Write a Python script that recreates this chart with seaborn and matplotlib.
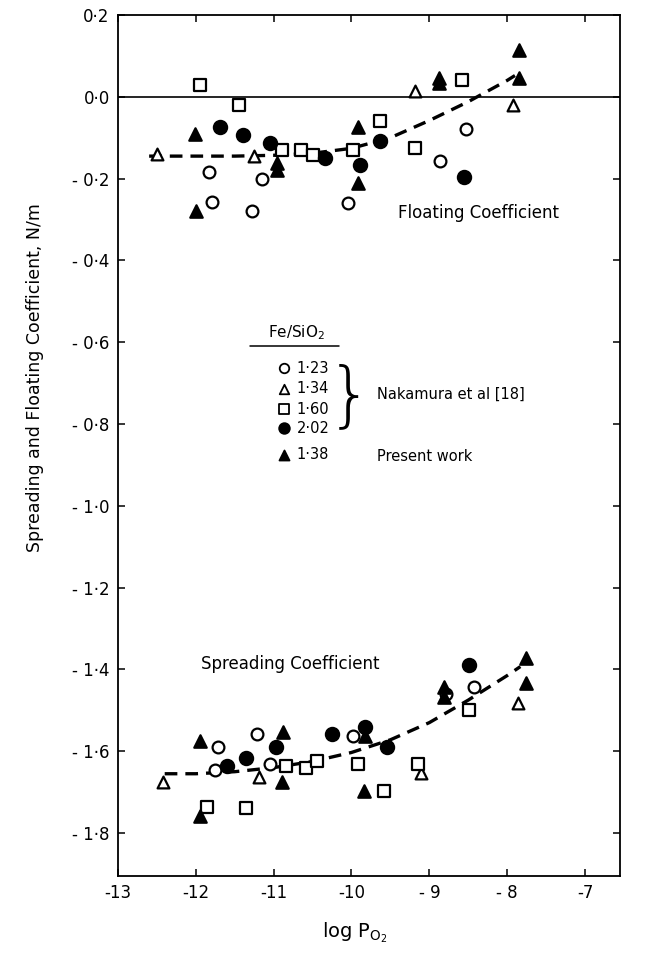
import matplotlib
matplotlib.use("Agg")
import matplotlib.pyplot as plt
import seaborn as sns
import pandas as pd

# ---------------- data ----------------
# Floating coefficient
fl_123_x = [-11.83, -11.79, -11.28, -11.15, -10.04, -8.86, -8.53]
fl_123_y = [-0.185, -0.258, -0.280, -0.200, -0.260, -0.157, -0.079]
fl_134_x = [-12.50, -11.25, -9.19, -7.93]
fl_134_y = [-0.140, -0.144, 0.013, -0.020]
fl_160_x = [-11.95, -11.45, -10.89, -10.65, -10.50, -9.98, -9.63, -9.18, -8.58]
fl_160_y = [0.029, -0.020, -0.130, -0.130, -0.142, -0.131, -0.060, -0.126, 0.042]
fl_202_x = [-11.69, -11.39, -11.05, -10.34, -9.89, -9.64, -8.56]
fl_202_y = [-0.073, -0.093, -0.112, -0.150, -0.166, -0.107, -0.195]
fl_138_x = [-12.01, -12.00, -10.96, -10.96, -9.92, -9.92, -8.88, -8.88, -7.85, -7.85]
fl_138_y = [-0.090, -0.280, -0.162, -0.179, -0.073, -0.211, 0.046, 0.034, 0.115, 0.046]

# Spreading coefficient
sp_123_x = [-11.71, -11.22, -11.75, -11.05, -9.98, -8.78, -8.42]
sp_123_y = [-1.590, -1.559, -1.646, -1.630, -1.562, -1.460, -1.443]
sp_134_x = [-12.42, -11.19, -9.11, -7.86]
sp_134_y = [-1.676, -1.664, -1.652, -1.483]
sp_160_x = [-11.86, -11.35, -10.84, -10.59, -10.44, -9.92, -9.58, -9.14, -8.49]
sp_160_y = [-1.736, -1.739, -1.635, -1.641, -1.625, -1.631, -1.698, -1.631, -1.500]
sp_202_x = [-11.60, -11.35, -10.97, -10.25, -9.82, -9.55, -8.49]
sp_202_y = [-1.635, -1.616, -1.590, -1.558, -1.540, -1.590, -1.388]
sp_138_x = [-11.94, -11.94, -10.88, -10.89, -9.83, -9.84, -8.81, -8.81, -7.76, -7.76]
sp_138_y = [-1.574, -1.758, -1.554, -1.676, -1.562, -1.696, -1.443, -1.468, -1.372, -1.433]

# Dashed trend curves
fl_curve_x = [-12.6, -12.0, -11.5, -11.0, -10.5, -10.0, -9.5, -9.0, -8.5, -8.0, -7.9]
fl_curve_y = [-0.145, -0.145, -0.145, -0.143, -0.138, -0.126, -0.100, -0.058, -0.012, 0.040, 0.052]
sp_curve_x = [-12.4, -12.0, -11.5, -11.0, -10.5, -10.0, -9.5, -9.0, -8.5, -8.0, -7.83]
sp_curve_y = [-1.655, -1.655, -1.650, -1.640, -1.625, -1.603, -1.572, -1.530, -1.475, -1.415, -1.393]

x_ticks = [-13, -12, -11, -10, -9, -8, -7]
x_tick_labels = ["-13", "-12", "-11", "-10", "- 9", "- 8", "-7"]
y_ticks = [0.2, 0.0, -0.2, -0.4, -0.6, -0.8, -1.0, -1.2, -1.4, -1.6, -1.8]
y_tick_labels = ["0·2", "0·0", "- 0·2", "- 0·4", "- 0·6", "- 0·8", "- 1·0",
                 "- 1·2", "- 1·4", "- 1·6", "- 1·8"]

legend_labels = ["1·23", "1·34", "1·60", "2·02", "1·38"]

# ---------------- style ----------------
sns.set_theme(style="ticks")
plt.rcParams["font.family"] = ["DejaVu Sans"]
plt.rcParams["mathtext.fontset"] = "dejavusans"
plt.rcParams["text.color"] = "black"
plt.rcParams["axes.labelcolor"] = "black"
plt.rcParams["xtick.color"] = "black"
plt.rcParams["ytick.color"] = "black"

fig = plt.figure(figsize=(6.49, 9.60), dpi=100)
ax = fig.add_axes([118 / 649, 1 - 876 / 960, (620 - 118) / 649, (876 - 15) / 960])

series = [
    (fl_123_x, fl_123_y, sp_123_x, sp_123_y, "o", False, 72),
    (fl_134_x, fl_134_y, sp_134_x, sp_134_y, "^", False, 72),
    (fl_160_x, fl_160_y, sp_160_x, sp_160_y, "s", False, 66),
    (fl_202_x, fl_202_y, sp_202_x, sp_202_y, "o", True, 90),
    (fl_138_x, fl_138_y, sp_138_x, sp_138_y, "^", True, 80),
]

for fx, fy, sx, sy, mk, filled, size in series:
    df = pd.DataFrame({"x": fx + sx, "y": fy + sy})
    sns.scatterplot(data=df, x="x", y="y", ax=ax, marker=mk, s=size,
                    facecolor="black" if filled else "white",
                    edgecolor="black", linewidth=1.6, zorder=3, legend=False)

for cx, cy in [(fl_curve_x, fl_curve_y), (sp_curve_x, sp_curve_y)]:
    dfc = pd.DataFrame({"x": cx, "y": cy})
    sns.lineplot(data=dfc, x="x", y="y", ax=ax, color="black", linewidth=2.4,
                 linestyle=(0, (3.8, 2.4)), sort=False, zorder=2, legend=False)

ax.axhline(0.0, color="black", linewidth=1.2, zorder=1)

ax.set_xlim(-13, -6.55)
ax.set_ylim(-1.905, 0.2)
ax.set_xticks(x_ticks)
ax.set_xticklabels(x_tick_labels, fontsize=12)
ax.set_yticks(y_ticks)
ax.set_yticklabels(y_tick_labels, fontsize=12)
ax.tick_params(direction="in", length=5, width=1.1, top=True, right=True,
               colors="black", pad=6)
for sp in ax.spines.values():
    sp.set_visible(True)
    sp.set_linewidth(1.3)
    sp.set_color("black")
ax.set_xlabel("")
ax.set_ylabel("")

fig.text(35 / 649, 1 - 378 / 960, "Spreading and Floating Coefficient, N/m",
         rotation=90, ha="center", va="center", fontsize=12.5)
fig.text(355 / 649, 1 - 933 / 960, r"log P$_{\mathregular{O_2}}$",
         ha="center", va="center", fontsize=14)

ax.text(-9.40, -0.284, "Floating Coefficient", ha="left", va="center", fontsize=12)
ax.text(-11.93, -1.386, "Spreading Coefficient", ha="left", va="center", fontsize=12)

# ---------------- hand-made legend ----------------
tr = ax.transAxes
ax.text(0.355, 0.631, r"Fe/SiO$_2$", transform=tr, ha="center", va="center", fontsize=11)
ax.plot([0.263, 0.440], [0.616, 0.616], transform=tr, color="black", linewidth=1.1)
leg_y = [0.590, 0.566, 0.542, 0.520, 0.489]
for (fx, fy, sx, sy, mk, filled, size), ly, lab in zip(series, leg_y, legend_labels):
    ax.scatter([0.331], [ly], transform=tr, marker=mk, s=size * 0.65,
               facecolor="black" if filled else "white", edgecolor="black",
               linewidth=1.3, zorder=4, clip_on=False)
    ax.text(0.356, ly, lab, transform=tr, ha="left", va="center", fontsize=10.5)
ax.text(0.462, 0.556, "}", transform=tr, ha="center", va="center", fontsize=52,
        fontweight="light")
ax.text(0.516, 0.559, "Nakamura et al [18]", transform=tr, ha="left", va="center",
        fontsize=10.5)
ax.text(0.516, 0.487, "Present work", transform=tr, ha="left", va="center",
        fontsize=10.5)

fig.savefig("out.png", dpi=100, facecolor="white")
